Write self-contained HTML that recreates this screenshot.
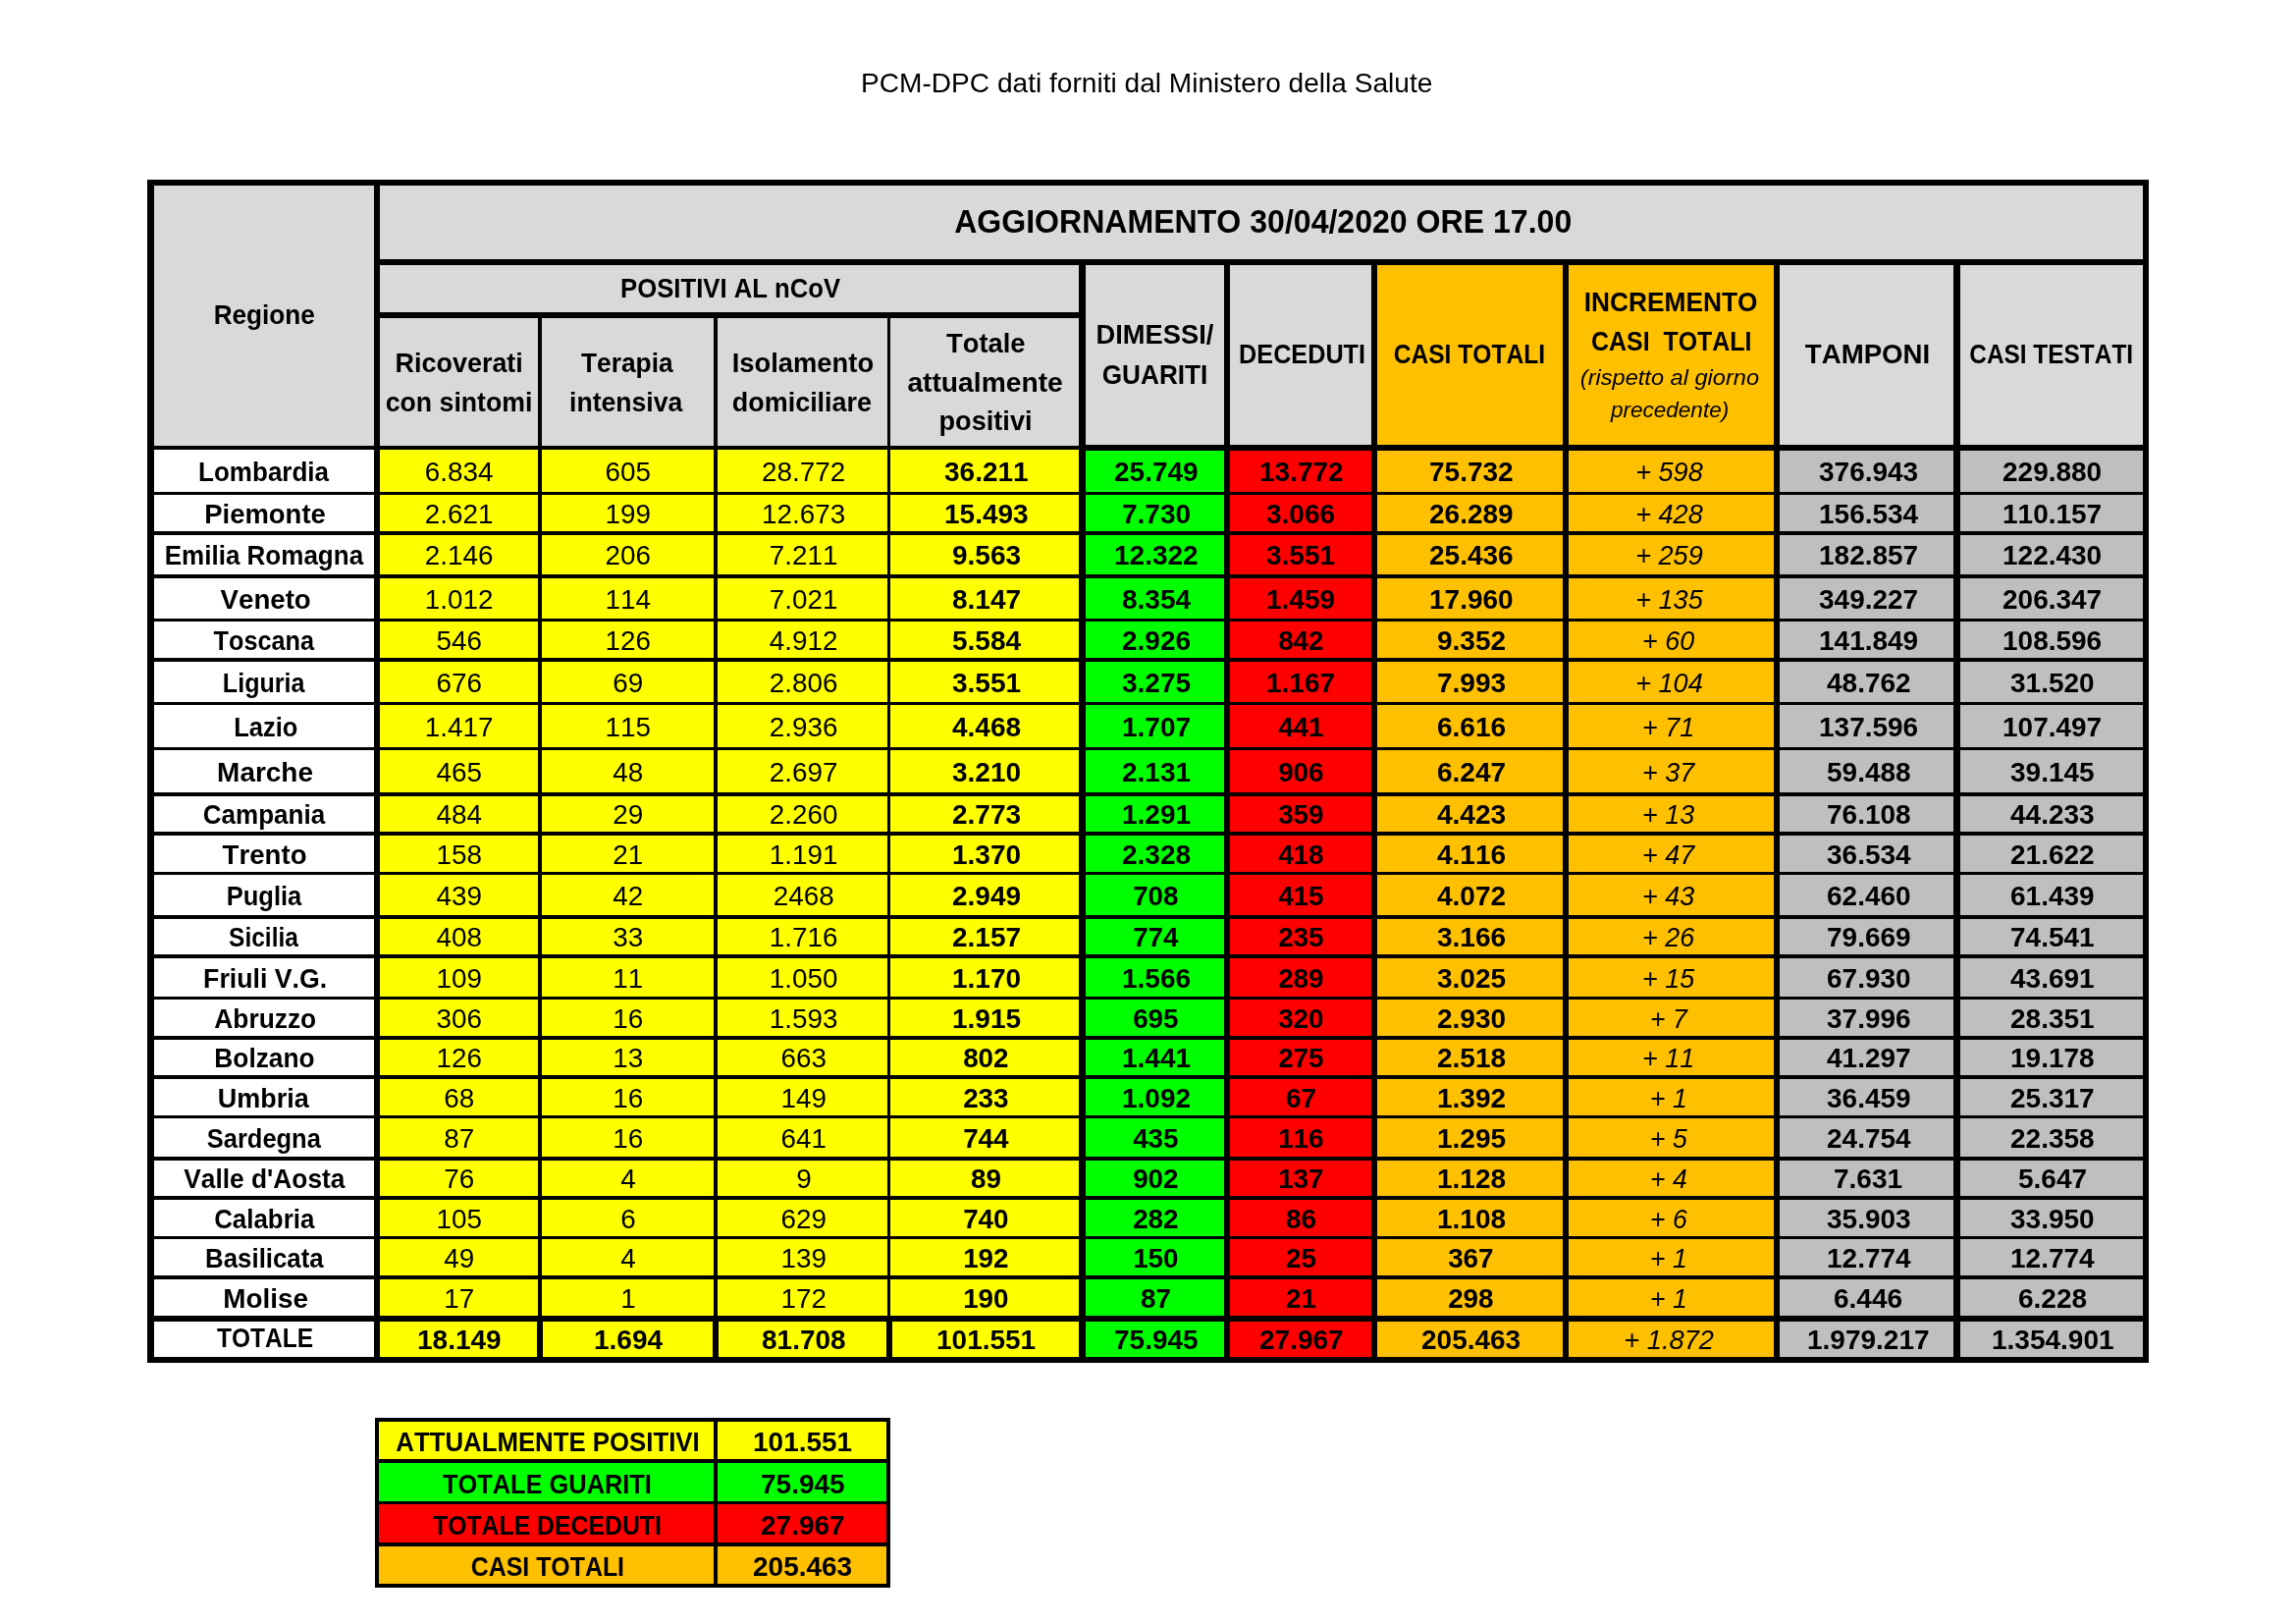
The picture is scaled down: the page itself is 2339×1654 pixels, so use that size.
<!DOCTYPE html><html><head><meta charset="utf-8"><title>PCM-DPC</title><style>
html,body{margin:0;padding:0;background:#fff}
body{width:2339px;height:1654px;position:relative;overflow:hidden;font-family:"Liberation Sans",sans-serif;color:#000}
.k{position:absolute;background:#000}
.c{position:absolute}
.t{position:absolute;white-space:pre;font-kerning:none;line-height:1;transform-origin:50% 50%;text-align:center}
.b{font-weight:bold}.i{font-style:italic}
#w{position:absolute;left:0;top:0;width:2339px;height:1654px;will-change:transform}
</style></head><body><div id="w">
<div class="k" style="left:150px;top:183px;width:2039px;height:1205px"></div>
<div class="k" style="left:382px;top:1444px;width:525px;height:173px"></div>
<div class="c" style="left:157px;top:189px;width:224px;height:265px;background:#d9d9d9"></div>
<div class="c" style="left:387px;top:189px;width:1796px;height:75px;background:#d9d9d9"></div>
<div class="c" style="left:387px;top:270px;width:712px;height:48px;background:#d9d9d9"></div>
<div class="c" style="left:387px;top:324px;width:161px;height:130px;background:#d9d9d9"></div>
<div class="c" style="left:552px;top:324px;width:175px;height:130px;background:#d9d9d9"></div>
<div class="c" style="left:731px;top:324px;width:173px;height:130px;background:#d9d9d9"></div>
<div class="c" style="left:907px;top:324px;width:192px;height:130px;background:#d9d9d9"></div>
<div class="c" style="left:1106px;top:270px;width:141px;height:183px;background:#d9d9d9"></div>
<div class="c" style="left:1253px;top:270px;width:144px;height:183px;background:#d9d9d9"></div>
<div class="c" style="left:1403px;top:270px;width:189px;height:183px;background:#ffc000"></div>
<div class="c" style="left:1598px;top:270px;width:209px;height:183px;background:#ffc000"></div>
<div class="c" style="left:1813px;top:270px;width:177px;height:183px;background:#d9d9d9"></div>
<div class="c" style="left:1997px;top:270px;width:186px;height:183px;background:#d9d9d9"></div>
<div class="c" style="left:157px;top:458px;width:224px;height:43px;background:#ffffff"></div>
<div class="c" style="left:387px;top:458px;width:161px;height:43px;background:#ffff00"></div>
<div class="c" style="left:552px;top:458px;width:175px;height:43px;background:#ffff00"></div>
<div class="c" style="left:731px;top:458px;width:173px;height:43px;background:#ffff00"></div>
<div class="c" style="left:907px;top:458px;width:192px;height:43px;background:#ffff00"></div>
<div class="c" style="left:1106px;top:459px;width:141px;height:42px;background:#00ff00"></div>
<div class="c" style="left:1253px;top:459px;width:144px;height:42px;background:#ff0000"></div>
<div class="c" style="left:1403px;top:459px;width:189px;height:42px;background:#ffc000"></div>
<div class="c" style="left:1598px;top:459px;width:209px;height:42px;background:#ffc000"></div>
<div class="c" style="left:1813px;top:459px;width:177px;height:42px;background:#bfbfbf"></div>
<div class="c" style="left:1997px;top:459px;width:186px;height:42px;background:#bfbfbf"></div>
<div class="c" style="left:157px;top:504px;width:224px;height:37px;background:#ffffff"></div>
<div class="c" style="left:387px;top:504px;width:161px;height:37px;background:#ffff00"></div>
<div class="c" style="left:552px;top:504px;width:175px;height:37px;background:#ffff00"></div>
<div class="c" style="left:731px;top:504px;width:173px;height:37px;background:#ffff00"></div>
<div class="c" style="left:907px;top:504px;width:192px;height:37px;background:#ffff00"></div>
<div class="c" style="left:1106px;top:504px;width:141px;height:37px;background:#00ff00"></div>
<div class="c" style="left:1253px;top:504px;width:144px;height:37px;background:#ff0000"></div>
<div class="c" style="left:1403px;top:504px;width:189px;height:37px;background:#ffc000"></div>
<div class="c" style="left:1598px;top:504px;width:209px;height:37px;background:#ffc000"></div>
<div class="c" style="left:1813px;top:504px;width:177px;height:37px;background:#bfbfbf"></div>
<div class="c" style="left:1997px;top:504px;width:186px;height:37px;background:#bfbfbf"></div>
<div class="c" style="left:157px;top:545px;width:224px;height:40px;background:#ffffff"></div>
<div class="c" style="left:387px;top:545px;width:161px;height:40px;background:#ffff00"></div>
<div class="c" style="left:552px;top:545px;width:175px;height:40px;background:#ffff00"></div>
<div class="c" style="left:731px;top:545px;width:173px;height:40px;background:#ffff00"></div>
<div class="c" style="left:907px;top:545px;width:192px;height:40px;background:#ffff00"></div>
<div class="c" style="left:1106px;top:545px;width:141px;height:40px;background:#00ff00"></div>
<div class="c" style="left:1253px;top:545px;width:144px;height:40px;background:#ff0000"></div>
<div class="c" style="left:1403px;top:545px;width:189px;height:40px;background:#ffc000"></div>
<div class="c" style="left:1598px;top:545px;width:209px;height:40px;background:#ffc000"></div>
<div class="c" style="left:1813px;top:545px;width:177px;height:40px;background:#bfbfbf"></div>
<div class="c" style="left:1997px;top:545px;width:186px;height:40px;background:#bfbfbf"></div>
<div class="c" style="left:157px;top:589px;width:224px;height:41px;background:#ffffff"></div>
<div class="c" style="left:387px;top:589px;width:161px;height:41px;background:#ffff00"></div>
<div class="c" style="left:552px;top:589px;width:175px;height:41px;background:#ffff00"></div>
<div class="c" style="left:731px;top:589px;width:173px;height:41px;background:#ffff00"></div>
<div class="c" style="left:907px;top:589px;width:192px;height:41px;background:#ffff00"></div>
<div class="c" style="left:1106px;top:589px;width:141px;height:41px;background:#00ff00"></div>
<div class="c" style="left:1253px;top:589px;width:144px;height:41px;background:#ff0000"></div>
<div class="c" style="left:1403px;top:589px;width:189px;height:41px;background:#ffc000"></div>
<div class="c" style="left:1598px;top:589px;width:209px;height:41px;background:#ffc000"></div>
<div class="c" style="left:1813px;top:589px;width:177px;height:41px;background:#bfbfbf"></div>
<div class="c" style="left:1997px;top:589px;width:186px;height:41px;background:#bfbfbf"></div>
<div class="c" style="left:157px;top:633px;width:224px;height:37px;background:#ffffff"></div>
<div class="c" style="left:387px;top:633px;width:161px;height:37px;background:#ffff00"></div>
<div class="c" style="left:552px;top:633px;width:175px;height:37px;background:#ffff00"></div>
<div class="c" style="left:731px;top:633px;width:173px;height:37px;background:#ffff00"></div>
<div class="c" style="left:907px;top:633px;width:192px;height:37px;background:#ffff00"></div>
<div class="c" style="left:1106px;top:633px;width:141px;height:37px;background:#00ff00"></div>
<div class="c" style="left:1253px;top:633px;width:144px;height:37px;background:#ff0000"></div>
<div class="c" style="left:1403px;top:633px;width:189px;height:37px;background:#ffc000"></div>
<div class="c" style="left:1598px;top:633px;width:209px;height:37px;background:#ffc000"></div>
<div class="c" style="left:1813px;top:633px;width:177px;height:37px;background:#bfbfbf"></div>
<div class="c" style="left:1997px;top:633px;width:186px;height:37px;background:#bfbfbf"></div>
<div class="c" style="left:157px;top:674px;width:224px;height:41px;background:#ffffff"></div>
<div class="c" style="left:387px;top:674px;width:161px;height:41px;background:#ffff00"></div>
<div class="c" style="left:552px;top:674px;width:175px;height:41px;background:#ffff00"></div>
<div class="c" style="left:731px;top:674px;width:173px;height:41px;background:#ffff00"></div>
<div class="c" style="left:907px;top:674px;width:192px;height:41px;background:#ffff00"></div>
<div class="c" style="left:1106px;top:674px;width:141px;height:41px;background:#00ff00"></div>
<div class="c" style="left:1253px;top:674px;width:144px;height:41px;background:#ff0000"></div>
<div class="c" style="left:1403px;top:674px;width:189px;height:41px;background:#ffc000"></div>
<div class="c" style="left:1598px;top:674px;width:209px;height:41px;background:#ffc000"></div>
<div class="c" style="left:1813px;top:674px;width:177px;height:41px;background:#bfbfbf"></div>
<div class="c" style="left:1997px;top:674px;width:186px;height:41px;background:#bfbfbf"></div>
<div class="c" style="left:157px;top:718px;width:224px;height:43px;background:#ffffff"></div>
<div class="c" style="left:387px;top:718px;width:161px;height:43px;background:#ffff00"></div>
<div class="c" style="left:552px;top:718px;width:175px;height:43px;background:#ffff00"></div>
<div class="c" style="left:731px;top:718px;width:173px;height:43px;background:#ffff00"></div>
<div class="c" style="left:907px;top:718px;width:192px;height:43px;background:#ffff00"></div>
<div class="c" style="left:1106px;top:718px;width:141px;height:43px;background:#00ff00"></div>
<div class="c" style="left:1253px;top:718px;width:144px;height:43px;background:#ff0000"></div>
<div class="c" style="left:1403px;top:718px;width:189px;height:43px;background:#ffc000"></div>
<div class="c" style="left:1598px;top:718px;width:209px;height:43px;background:#ffc000"></div>
<div class="c" style="left:1813px;top:718px;width:177px;height:43px;background:#bfbfbf"></div>
<div class="c" style="left:1997px;top:718px;width:186px;height:43px;background:#bfbfbf"></div>
<div class="c" style="left:157px;top:764px;width:224px;height:43px;background:#ffffff"></div>
<div class="c" style="left:387px;top:764px;width:161px;height:43px;background:#ffff00"></div>
<div class="c" style="left:552px;top:764px;width:175px;height:43px;background:#ffff00"></div>
<div class="c" style="left:731px;top:764px;width:173px;height:43px;background:#ffff00"></div>
<div class="c" style="left:907px;top:764px;width:192px;height:43px;background:#ffff00"></div>
<div class="c" style="left:1106px;top:764px;width:141px;height:43px;background:#00ff00"></div>
<div class="c" style="left:1253px;top:764px;width:144px;height:43px;background:#ff0000"></div>
<div class="c" style="left:1403px;top:764px;width:189px;height:43px;background:#ffc000"></div>
<div class="c" style="left:1598px;top:764px;width:209px;height:43px;background:#ffc000"></div>
<div class="c" style="left:1813px;top:764px;width:177px;height:43px;background:#bfbfbf"></div>
<div class="c" style="left:1997px;top:764px;width:186px;height:43px;background:#bfbfbf"></div>
<div class="c" style="left:157px;top:811px;width:224px;height:36px;background:#ffffff"></div>
<div class="c" style="left:387px;top:811px;width:161px;height:36px;background:#ffff00"></div>
<div class="c" style="left:552px;top:811px;width:175px;height:36px;background:#ffff00"></div>
<div class="c" style="left:731px;top:811px;width:173px;height:36px;background:#ffff00"></div>
<div class="c" style="left:907px;top:811px;width:192px;height:36px;background:#ffff00"></div>
<div class="c" style="left:1106px;top:811px;width:141px;height:36px;background:#00ff00"></div>
<div class="c" style="left:1253px;top:811px;width:144px;height:36px;background:#ff0000"></div>
<div class="c" style="left:1403px;top:811px;width:189px;height:36px;background:#ffc000"></div>
<div class="c" style="left:1598px;top:811px;width:209px;height:36px;background:#ffc000"></div>
<div class="c" style="left:1813px;top:811px;width:177px;height:36px;background:#bfbfbf"></div>
<div class="c" style="left:1997px;top:811px;width:186px;height:36px;background:#bfbfbf"></div>
<div class="c" style="left:157px;top:851px;width:224px;height:37px;background:#ffffff"></div>
<div class="c" style="left:387px;top:851px;width:161px;height:37px;background:#ffff00"></div>
<div class="c" style="left:552px;top:851px;width:175px;height:37px;background:#ffff00"></div>
<div class="c" style="left:731px;top:851px;width:173px;height:37px;background:#ffff00"></div>
<div class="c" style="left:907px;top:851px;width:192px;height:37px;background:#ffff00"></div>
<div class="c" style="left:1106px;top:851px;width:141px;height:37px;background:#00ff00"></div>
<div class="c" style="left:1253px;top:851px;width:144px;height:37px;background:#ff0000"></div>
<div class="c" style="left:1403px;top:851px;width:189px;height:37px;background:#ffc000"></div>
<div class="c" style="left:1598px;top:851px;width:209px;height:37px;background:#ffc000"></div>
<div class="c" style="left:1813px;top:851px;width:177px;height:37px;background:#bfbfbf"></div>
<div class="c" style="left:1997px;top:851px;width:186px;height:37px;background:#bfbfbf"></div>
<div class="c" style="left:157px;top:891px;width:224px;height:41px;background:#ffffff"></div>
<div class="c" style="left:387px;top:891px;width:161px;height:41px;background:#ffff00"></div>
<div class="c" style="left:552px;top:891px;width:175px;height:41px;background:#ffff00"></div>
<div class="c" style="left:731px;top:891px;width:173px;height:41px;background:#ffff00"></div>
<div class="c" style="left:907px;top:891px;width:192px;height:41px;background:#ffff00"></div>
<div class="c" style="left:1106px;top:891px;width:141px;height:41px;background:#00ff00"></div>
<div class="c" style="left:1253px;top:891px;width:144px;height:41px;background:#ff0000"></div>
<div class="c" style="left:1403px;top:891px;width:189px;height:41px;background:#ffc000"></div>
<div class="c" style="left:1598px;top:891px;width:209px;height:41px;background:#ffc000"></div>
<div class="c" style="left:1813px;top:891px;width:177px;height:41px;background:#bfbfbf"></div>
<div class="c" style="left:1997px;top:891px;width:186px;height:41px;background:#bfbfbf"></div>
<div class="c" style="left:157px;top:936px;width:224px;height:36px;background:#ffffff"></div>
<div class="c" style="left:387px;top:936px;width:161px;height:36px;background:#ffff00"></div>
<div class="c" style="left:552px;top:936px;width:175px;height:36px;background:#ffff00"></div>
<div class="c" style="left:731px;top:936px;width:173px;height:36px;background:#ffff00"></div>
<div class="c" style="left:907px;top:936px;width:192px;height:36px;background:#ffff00"></div>
<div class="c" style="left:1106px;top:936px;width:141px;height:36px;background:#00ff00"></div>
<div class="c" style="left:1253px;top:936px;width:144px;height:36px;background:#ff0000"></div>
<div class="c" style="left:1403px;top:936px;width:189px;height:36px;background:#ffc000"></div>
<div class="c" style="left:1598px;top:936px;width:209px;height:36px;background:#ffc000"></div>
<div class="c" style="left:1813px;top:936px;width:177px;height:36px;background:#bfbfbf"></div>
<div class="c" style="left:1997px;top:936px;width:186px;height:36px;background:#bfbfbf"></div>
<div class="c" style="left:157px;top:976px;width:224px;height:39px;background:#ffffff"></div>
<div class="c" style="left:387px;top:976px;width:161px;height:39px;background:#ffff00"></div>
<div class="c" style="left:552px;top:976px;width:175px;height:39px;background:#ffff00"></div>
<div class="c" style="left:731px;top:976px;width:173px;height:39px;background:#ffff00"></div>
<div class="c" style="left:907px;top:976px;width:192px;height:39px;background:#ffff00"></div>
<div class="c" style="left:1106px;top:976px;width:141px;height:39px;background:#00ff00"></div>
<div class="c" style="left:1253px;top:976px;width:144px;height:39px;background:#ff0000"></div>
<div class="c" style="left:1403px;top:976px;width:189px;height:39px;background:#ffc000"></div>
<div class="c" style="left:1598px;top:976px;width:209px;height:39px;background:#ffc000"></div>
<div class="c" style="left:1813px;top:976px;width:177px;height:39px;background:#bfbfbf"></div>
<div class="c" style="left:1997px;top:976px;width:186px;height:39px;background:#bfbfbf"></div>
<div class="c" style="left:157px;top:1018px;width:224px;height:37px;background:#ffffff"></div>
<div class="c" style="left:387px;top:1018px;width:161px;height:37px;background:#ffff00"></div>
<div class="c" style="left:552px;top:1018px;width:175px;height:37px;background:#ffff00"></div>
<div class="c" style="left:731px;top:1018px;width:173px;height:37px;background:#ffff00"></div>
<div class="c" style="left:907px;top:1018px;width:192px;height:37px;background:#ffff00"></div>
<div class="c" style="left:1106px;top:1018px;width:141px;height:37px;background:#00ff00"></div>
<div class="c" style="left:1253px;top:1018px;width:144px;height:37px;background:#ff0000"></div>
<div class="c" style="left:1403px;top:1018px;width:189px;height:37px;background:#ffc000"></div>
<div class="c" style="left:1598px;top:1018px;width:209px;height:37px;background:#ffc000"></div>
<div class="c" style="left:1813px;top:1018px;width:177px;height:37px;background:#bfbfbf"></div>
<div class="c" style="left:1997px;top:1018px;width:186px;height:37px;background:#bfbfbf"></div>
<div class="c" style="left:157px;top:1059px;width:224px;height:36px;background:#ffffff"></div>
<div class="c" style="left:387px;top:1059px;width:161px;height:36px;background:#ffff00"></div>
<div class="c" style="left:552px;top:1059px;width:175px;height:36px;background:#ffff00"></div>
<div class="c" style="left:731px;top:1059px;width:173px;height:36px;background:#ffff00"></div>
<div class="c" style="left:907px;top:1059px;width:192px;height:36px;background:#ffff00"></div>
<div class="c" style="left:1106px;top:1059px;width:141px;height:36px;background:#00ff00"></div>
<div class="c" style="left:1253px;top:1059px;width:144px;height:36px;background:#ff0000"></div>
<div class="c" style="left:1403px;top:1059px;width:189px;height:36px;background:#ffc000"></div>
<div class="c" style="left:1598px;top:1059px;width:209px;height:36px;background:#ffc000"></div>
<div class="c" style="left:1813px;top:1059px;width:177px;height:36px;background:#bfbfbf"></div>
<div class="c" style="left:1997px;top:1059px;width:186px;height:36px;background:#bfbfbf"></div>
<div class="c" style="left:157px;top:1099px;width:224px;height:37px;background:#ffffff"></div>
<div class="c" style="left:387px;top:1099px;width:161px;height:37px;background:#ffff00"></div>
<div class="c" style="left:552px;top:1099px;width:175px;height:37px;background:#ffff00"></div>
<div class="c" style="left:731px;top:1099px;width:173px;height:37px;background:#ffff00"></div>
<div class="c" style="left:907px;top:1099px;width:192px;height:37px;background:#ffff00"></div>
<div class="c" style="left:1106px;top:1099px;width:141px;height:37px;background:#00ff00"></div>
<div class="c" style="left:1253px;top:1099px;width:144px;height:37px;background:#ff0000"></div>
<div class="c" style="left:1403px;top:1099px;width:189px;height:37px;background:#ffc000"></div>
<div class="c" style="left:1598px;top:1099px;width:209px;height:37px;background:#ffc000"></div>
<div class="c" style="left:1813px;top:1099px;width:177px;height:37px;background:#bfbfbf"></div>
<div class="c" style="left:1997px;top:1099px;width:186px;height:37px;background:#bfbfbf"></div>
<div class="c" style="left:157px;top:1139px;width:224px;height:39px;background:#ffffff"></div>
<div class="c" style="left:387px;top:1139px;width:161px;height:39px;background:#ffff00"></div>
<div class="c" style="left:552px;top:1139px;width:175px;height:39px;background:#ffff00"></div>
<div class="c" style="left:731px;top:1139px;width:173px;height:39px;background:#ffff00"></div>
<div class="c" style="left:907px;top:1139px;width:192px;height:39px;background:#ffff00"></div>
<div class="c" style="left:1106px;top:1139px;width:141px;height:39px;background:#00ff00"></div>
<div class="c" style="left:1253px;top:1139px;width:144px;height:39px;background:#ff0000"></div>
<div class="c" style="left:1403px;top:1139px;width:189px;height:39px;background:#ffc000"></div>
<div class="c" style="left:1598px;top:1139px;width:209px;height:39px;background:#ffc000"></div>
<div class="c" style="left:1813px;top:1139px;width:177px;height:39px;background:#bfbfbf"></div>
<div class="c" style="left:1997px;top:1139px;width:186px;height:39px;background:#bfbfbf"></div>
<div class="c" style="left:157px;top:1182px;width:224px;height:36px;background:#ffffff"></div>
<div class="c" style="left:387px;top:1182px;width:161px;height:36px;background:#ffff00"></div>
<div class="c" style="left:552px;top:1182px;width:175px;height:36px;background:#ffff00"></div>
<div class="c" style="left:731px;top:1182px;width:173px;height:36px;background:#ffff00"></div>
<div class="c" style="left:907px;top:1182px;width:192px;height:36px;background:#ffff00"></div>
<div class="c" style="left:1106px;top:1182px;width:141px;height:36px;background:#00ff00"></div>
<div class="c" style="left:1253px;top:1182px;width:144px;height:36px;background:#ff0000"></div>
<div class="c" style="left:1403px;top:1182px;width:189px;height:36px;background:#ffc000"></div>
<div class="c" style="left:1598px;top:1182px;width:209px;height:36px;background:#ffc000"></div>
<div class="c" style="left:1813px;top:1182px;width:177px;height:36px;background:#bfbfbf"></div>
<div class="c" style="left:1997px;top:1182px;width:186px;height:36px;background:#bfbfbf"></div>
<div class="c" style="left:157px;top:1222px;width:224px;height:37px;background:#ffffff"></div>
<div class="c" style="left:387px;top:1222px;width:161px;height:37px;background:#ffff00"></div>
<div class="c" style="left:552px;top:1222px;width:175px;height:37px;background:#ffff00"></div>
<div class="c" style="left:731px;top:1222px;width:173px;height:37px;background:#ffff00"></div>
<div class="c" style="left:907px;top:1222px;width:192px;height:37px;background:#ffff00"></div>
<div class="c" style="left:1106px;top:1222px;width:141px;height:37px;background:#00ff00"></div>
<div class="c" style="left:1253px;top:1222px;width:144px;height:37px;background:#ff0000"></div>
<div class="c" style="left:1403px;top:1222px;width:189px;height:37px;background:#ffc000"></div>
<div class="c" style="left:1598px;top:1222px;width:209px;height:37px;background:#ffc000"></div>
<div class="c" style="left:1813px;top:1222px;width:177px;height:37px;background:#bfbfbf"></div>
<div class="c" style="left:1997px;top:1222px;width:186px;height:37px;background:#bfbfbf"></div>
<div class="c" style="left:157px;top:1262px;width:224px;height:37px;background:#ffffff"></div>
<div class="c" style="left:387px;top:1262px;width:161px;height:37px;background:#ffff00"></div>
<div class="c" style="left:552px;top:1262px;width:175px;height:37px;background:#ffff00"></div>
<div class="c" style="left:731px;top:1262px;width:173px;height:37px;background:#ffff00"></div>
<div class="c" style="left:907px;top:1262px;width:192px;height:37px;background:#ffff00"></div>
<div class="c" style="left:1106px;top:1262px;width:141px;height:37px;background:#00ff00"></div>
<div class="c" style="left:1253px;top:1262px;width:144px;height:37px;background:#ff0000"></div>
<div class="c" style="left:1403px;top:1262px;width:189px;height:37px;background:#ffc000"></div>
<div class="c" style="left:1598px;top:1262px;width:209px;height:37px;background:#ffc000"></div>
<div class="c" style="left:1813px;top:1262px;width:177px;height:37px;background:#bfbfbf"></div>
<div class="c" style="left:1997px;top:1262px;width:186px;height:37px;background:#bfbfbf"></div>
<div class="c" style="left:157px;top:1303px;width:224px;height:37px;background:#ffffff"></div>
<div class="c" style="left:387px;top:1303px;width:161px;height:37px;background:#ffff00"></div>
<div class="c" style="left:552px;top:1303px;width:175px;height:37px;background:#ffff00"></div>
<div class="c" style="left:731px;top:1303px;width:173px;height:37px;background:#ffff00"></div>
<div class="c" style="left:907px;top:1303px;width:192px;height:37px;background:#ffff00"></div>
<div class="c" style="left:1106px;top:1303px;width:141px;height:37px;background:#00ff00"></div>
<div class="c" style="left:1253px;top:1303px;width:144px;height:37px;background:#ff0000"></div>
<div class="c" style="left:1403px;top:1303px;width:189px;height:37px;background:#ffc000"></div>
<div class="c" style="left:1598px;top:1303px;width:209px;height:37px;background:#ffc000"></div>
<div class="c" style="left:1813px;top:1303px;width:177px;height:37px;background:#bfbfbf"></div>
<div class="c" style="left:1997px;top:1303px;width:186px;height:37px;background:#bfbfbf"></div>
<div class="c" style="left:157px;top:1346px;width:224px;height:36px;background:#ffffff"></div>
<div class="c" style="left:387px;top:1346px;width:160px;height:36px;background:#ffff00"></div>
<div class="c" style="left:553px;top:1346px;width:173px;height:36px;background:#ffff00"></div>
<div class="c" style="left:732px;top:1346px;width:171px;height:36px;background:#ffff00"></div>
<div class="c" style="left:909px;top:1346px;width:190px;height:36px;background:#ffff00"></div>
<div class="c" style="left:1106px;top:1346px;width:141px;height:36px;background:#00ff00"></div>
<div class="c" style="left:1253px;top:1346px;width:144px;height:36px;background:#ff0000"></div>
<div class="c" style="left:1403px;top:1346px;width:189px;height:36px;background:#ffc000"></div>
<div class="c" style="left:1598px;top:1346px;width:209px;height:36px;background:#ffc000"></div>
<div class="c" style="left:1813px;top:1346px;width:177px;height:36px;background:#bfbfbf"></div>
<div class="c" style="left:1997px;top:1346px;width:186px;height:36px;background:#bfbfbf"></div>
<div class="c" style="left:386px;top:1448px;width:341px;height:38px;background:#ffff00"></div>
<div class="c" style="left:731px;top:1448px;width:172px;height:38px;background:#ffff00"></div>
<div class="c" style="left:386px;top:1490px;width:341px;height:39px;background:#00ff00"></div>
<div class="c" style="left:731px;top:1490px;width:172px;height:39px;background:#00ff00"></div>
<div class="c" style="left:386px;top:1532px;width:341px;height:39px;background:#ff0000"></div>
<div class="c" style="left:731px;top:1532px;width:172px;height:39px;background:#ff0000"></div>
<div class="c" style="left:386px;top:1575px;width:341px;height:38px;background:#ffc000"></div>
<div class="c" style="left:731px;top:1575px;width:172px;height:38px;background:#ffc000"></div>
<span class="t b" style="left:196.98px;top:467px;font-size:28px;width:143.13px;transform:scaleX(0.9290)">Lombardia</span>
<span class="t" style="left:432.34px;top:466px;font-size:28.5px;width:71.32px;transform:scaleX(0.9767)">6.834</span>
<span class="t" style="left:616.22px;top:466px;font-size:28.5px;width:47.55px;transform:scaleX(0.9771)">605</span>
<span class="t" style="left:775.12px;top:466px;font-size:28.5px;width:87.17px;transform:scaleX(0.9768)">28.772</span>
<span class="t b" style="left:961.78px;top:467px;font-size:28px;width:85.64px;transform:scaleX(0.9995)">36.211</span>
<span class="t b" style="left:1134.83px;top:467px;font-size:28px;width:85.64px;transform:scaleX(0.9995)">25.749</span>
<span class="t b" style="left:1282.58px;top:467px;font-size:28px;width:85.64px;transform:scaleX(0.9995)">13.772</span>
<span class="t b" style="left:1455.93px;top:467px;font-size:28px;width:85.64px;transform:scaleX(0.9995)">75.732</span>
<span class="t i" style="left:1664.58px;top:467px;font-size:28px;width:70.85px;transform:scaleX(0.9681)">+ 598</span>
<span class="t b" style="left:1852.79px;top:467px;font-size:28px;width:101.21px;transform:scaleX(0.9987)">376.943</span>
<span class="t b" style="left:2040.29px;top:467px;font-size:28px;width:101.21px;transform:scaleX(0.9987)">229.880</span>
<span class="t b" style="left:206.54px;top:510px;font-size:28px;width:126.03px;transform:scaleX(0.9805)">Piemonte</span>
<span class="t" style="left:432.34px;top:509px;font-size:28.5px;width:71.32px;transform:scaleX(0.9767)">2.621</span>
<span class="t" style="left:616.22px;top:509px;font-size:28.5px;width:47.55px;transform:scaleX(0.9771)">199</span>
<span class="t" style="left:775.12px;top:509px;font-size:28.5px;width:87.17px;transform:scaleX(0.9768)">12.673</span>
<span class="t b" style="left:961.78px;top:510px;font-size:28px;width:85.64px;transform:scaleX(0.9995)">15.493</span>
<span class="t b" style="left:1142.62px;top:510px;font-size:28px;width:70.07px;transform:scaleX(1.0006)">7.730</span>
<span class="t b" style="left:1290.37px;top:510px;font-size:28px;width:70.07px;transform:scaleX(1.0006)">3.066</span>
<span class="t b" style="left:1455.93px;top:510px;font-size:28px;width:85.64px;transform:scaleX(0.9995)">26.289</span>
<span class="t i" style="left:1664.58px;top:510px;font-size:28px;width:70.85px;transform:scaleX(0.9681)">+ 428</span>
<span class="t b" style="left:1852.79px;top:510px;font-size:28px;width:101.21px;transform:scaleX(0.9987)">156.534</span>
<span class="t b" style="left:2040.29px;top:510px;font-size:28px;width:101.21px;transform:scaleX(0.9987)">110.157</span>
<span class="t b" style="left:160.23px;top:552px;font-size:28px;width:217.83px;transform:scaleX(0.9290)">Emilia Romagna</span>
<span class="t" style="left:432.34px;top:551px;font-size:28.5px;width:71.32px;transform:scaleX(0.9767)">2.146</span>
<span class="t" style="left:616.22px;top:551px;font-size:28.5px;width:47.55px;transform:scaleX(0.9771)">206</span>
<span class="t" style="left:783.04px;top:551px;font-size:28.5px;width:71.32px;transform:scaleX(0.9767)">7.211</span>
<span class="t b" style="left:969.57px;top:552px;font-size:28px;width:70.07px;transform:scaleX(1.0006)">9.563</span>
<span class="t b" style="left:1134.83px;top:552px;font-size:28px;width:85.64px;transform:scaleX(0.9995)">12.322</span>
<span class="t b" style="left:1290.37px;top:552px;font-size:28px;width:70.07px;transform:scaleX(1.0006)">3.551</span>
<span class="t b" style="left:1455.93px;top:552px;font-size:28px;width:85.64px;transform:scaleX(0.9995)">25.436</span>
<span class="t i" style="left:1664.58px;top:552px;font-size:28px;width:70.85px;transform:scaleX(0.9681)">+ 259</span>
<span class="t b" style="left:1852.79px;top:552px;font-size:28px;width:101.21px;transform:scaleX(0.9987)">182.857</span>
<span class="t b" style="left:2040.29px;top:552px;font-size:28px;width:101.21px;transform:scaleX(0.9987)">122.430</span>
<span class="t b" style="left:224.02px;top:597px;font-size:28px;width:93.35px;transform:scaleX(0.9873)">Veneto</span>
<span class="t" style="left:432.34px;top:596px;font-size:28.5px;width:71.32px;transform:scaleX(0.9767)">1.012</span>
<span class="t" style="left:616.22px;top:596px;font-size:28.5px;width:47.55px;transform:scaleX(0.9771)">114</span>
<span class="t" style="left:783.04px;top:596px;font-size:28.5px;width:71.32px;transform:scaleX(0.9767)">7.021</span>
<span class="t b" style="left:969.57px;top:597px;font-size:28px;width:70.07px;transform:scaleX(1.0006)">8.147</span>
<span class="t b" style="left:1142.62px;top:597px;font-size:28px;width:70.07px;transform:scaleX(1.0006)">8.354</span>
<span class="t b" style="left:1290.37px;top:597px;font-size:28px;width:70.07px;transform:scaleX(1.0006)">1.459</span>
<span class="t b" style="left:1455.93px;top:597px;font-size:28px;width:85.64px;transform:scaleX(0.9995)">17.960</span>
<span class="t i" style="left:1664.58px;top:597px;font-size:28px;width:70.85px;transform:scaleX(0.9681)">+ 135</span>
<span class="t b" style="left:1852.79px;top:597px;font-size:28px;width:101.21px;transform:scaleX(0.9987)">349.227</span>
<span class="t b" style="left:2040.29px;top:597px;font-size:28px;width:101.21px;transform:scaleX(0.9987)">206.347</span>
<span class="t b" style="left:212.33px;top:639px;font-size:28px;width:113.60px;transform:scaleX(0.9016)">Toscana</span>
<span class="t" style="left:444.22px;top:638px;font-size:28.5px;width:47.55px;transform:scaleX(0.9771)">546</span>
<span class="t" style="left:616.22px;top:638px;font-size:28.5px;width:47.55px;transform:scaleX(0.9771)">126</span>
<span class="t" style="left:783.04px;top:638px;font-size:28.5px;width:71.32px;transform:scaleX(0.9767)">4.912</span>
<span class="t b" style="left:969.57px;top:639px;font-size:28px;width:70.07px;transform:scaleX(1.0006)">5.584</span>
<span class="t b" style="left:1142.62px;top:639px;font-size:28px;width:70.07px;transform:scaleX(1.0006)">2.926</span>
<span class="t b" style="left:1302.04px;top:639px;font-size:28px;width:46.72px;transform:scaleX(0.9945)">842</span>
<span class="t b" style="left:1463.72px;top:639px;font-size:28px;width:70.07px;transform:scaleX(1.0006)">9.352</span>
<span class="t i" style="left:1672.36px;top:639px;font-size:28px;width:55.28px;transform:scaleX(0.9606)">+ 60</span>
<span class="t b" style="left:1852.79px;top:639px;font-size:28px;width:101.21px;transform:scaleX(0.9987)">141.849</span>
<span class="t b" style="left:2040.29px;top:639px;font-size:28px;width:101.21px;transform:scaleX(0.9987)">108.596</span>
<span class="t b" style="left:221.76px;top:682px;font-size:28px;width:93.34px;transform:scaleX(0.8959)">Liguria</span>
<span class="t" style="left:444.22px;top:681px;font-size:28.5px;width:47.55px;transform:scaleX(0.9771)">676</span>
<span class="t" style="left:624.15px;top:681px;font-size:28.5px;width:31.70px;transform:scaleX(0.9771)">69</span>
<span class="t" style="left:783.04px;top:681px;font-size:28.5px;width:71.32px;transform:scaleX(0.9767)">2.806</span>
<span class="t b" style="left:969.57px;top:682px;font-size:28px;width:70.07px;transform:scaleX(1.0006)">3.551</span>
<span class="t b" style="left:1142.62px;top:682px;font-size:28px;width:70.07px;transform:scaleX(1.0006)">3.275</span>
<span class="t b" style="left:1290.37px;top:682px;font-size:28px;width:70.07px;transform:scaleX(1.0006)">1.167</span>
<span class="t b" style="left:1463.72px;top:682px;font-size:28px;width:70.07px;transform:scaleX(1.0006)">7.993</span>
<span class="t i" style="left:1664.58px;top:682px;font-size:28px;width:70.85px;transform:scaleX(0.9681)">+ 104</span>
<span class="t b" style="left:1860.58px;top:682px;font-size:28px;width:85.64px;transform:scaleX(0.9995)">48.762</span>
<span class="t b" style="left:2048.08px;top:682px;font-size:28px;width:85.64px;transform:scaleX(0.9995)">31.520</span>
<span class="t b" style="left:234.82px;top:727px;font-size:28px;width:71.56px;transform:scaleX(0.9112)">Lazio</span>
<span class="t" style="left:432.34px;top:726px;font-size:28.5px;width:71.32px;transform:scaleX(0.9767)">1.417</span>
<span class="t" style="left:616.22px;top:726px;font-size:28.5px;width:47.55px;transform:scaleX(0.9771)">115</span>
<span class="t" style="left:783.04px;top:726px;font-size:28.5px;width:71.32px;transform:scaleX(0.9767)">2.936</span>
<span class="t b" style="left:969.57px;top:727px;font-size:28px;width:70.07px;transform:scaleX(1.0006)">4.468</span>
<span class="t b" style="left:1142.62px;top:727px;font-size:28px;width:70.07px;transform:scaleX(1.0006)">1.707</span>
<span class="t b" style="left:1302.04px;top:727px;font-size:28px;width:46.72px;transform:scaleX(0.9945)">441</span>
<span class="t b" style="left:1463.72px;top:727px;font-size:28px;width:70.07px;transform:scaleX(1.0006)">6.616</span>
<span class="t i" style="left:1672.36px;top:727px;font-size:28px;width:55.28px;transform:scaleX(0.9606)">+ 71</span>
<span class="t b" style="left:1852.79px;top:727px;font-size:28px;width:101.21px;transform:scaleX(0.9987)">137.596</span>
<span class="t b" style="left:2040.29px;top:727px;font-size:28px;width:101.21px;transform:scaleX(0.9987)">107.497</span>
<span class="t b" style="left:220.62px;top:773px;font-size:28px;width:98.04px;transform:scaleX(0.9978)">Marche</span>
<span class="t" style="left:444.22px;top:772px;font-size:28.5px;width:47.55px;transform:scaleX(0.9771)">465</span>
<span class="t" style="left:624.15px;top:772px;font-size:28.5px;width:31.70px;transform:scaleX(0.9771)">48</span>
<span class="t" style="left:783.04px;top:772px;font-size:28.5px;width:71.32px;transform:scaleX(0.9767)">2.697</span>
<span class="t b" style="left:969.57px;top:773px;font-size:28px;width:70.07px;transform:scaleX(1.0006)">3.210</span>
<span class="t b" style="left:1142.62px;top:773px;font-size:28px;width:70.07px;transform:scaleX(1.0006)">2.131</span>
<span class="t b" style="left:1302.04px;top:773px;font-size:28px;width:46.72px;transform:scaleX(0.9945)">906</span>
<span class="t b" style="left:1463.72px;top:773px;font-size:28px;width:70.07px;transform:scaleX(1.0006)">6.247</span>
<span class="t i" style="left:1672.36px;top:773px;font-size:28px;width:55.28px;transform:scaleX(0.9606)">+ 37</span>
<span class="t b" style="left:1860.58px;top:773px;font-size:28px;width:85.64px;transform:scaleX(0.9995)">59.488</span>
<span class="t b" style="left:2048.08px;top:773px;font-size:28px;width:85.64px;transform:scaleX(0.9995)">39.145</span>
<span class="t b" style="left:202.12px;top:816px;font-size:28px;width:133.82px;transform:scaleX(0.9296)">Campania</span>
<span class="t" style="left:444.22px;top:815px;font-size:28.5px;width:47.55px;transform:scaleX(0.9771)">484</span>
<span class="t" style="left:624.15px;top:815px;font-size:28.5px;width:31.70px;transform:scaleX(0.9771)">29</span>
<span class="t" style="left:783.04px;top:815px;font-size:28.5px;width:71.32px;transform:scaleX(0.9767)">2.260</span>
<span class="t b" style="left:969.57px;top:816px;font-size:28px;width:70.07px;transform:scaleX(1.0006)">2.773</span>
<span class="t b" style="left:1142.62px;top:816px;font-size:28px;width:70.07px;transform:scaleX(1.0006)">1.291</span>
<span class="t b" style="left:1302.04px;top:816px;font-size:28px;width:46.72px;transform:scaleX(0.9945)">359</span>
<span class="t b" style="left:1463.72px;top:816px;font-size:28px;width:70.07px;transform:scaleX(1.0006)">4.423</span>
<span class="t i" style="left:1672.36px;top:816px;font-size:28px;width:55.28px;transform:scaleX(0.9606)">+ 13</span>
<span class="t b" style="left:1860.58px;top:816px;font-size:28px;width:85.64px;transform:scaleX(0.9995)">76.108</span>
<span class="t b" style="left:2048.08px;top:816px;font-size:28px;width:85.64px;transform:scaleX(0.9995)">44.233</span>
<span class="t b" style="left:226.43px;top:857px;font-size:28px;width:87.10px;transform:scaleX(0.9872)">Trento</span>
<span class="t" style="left:444.22px;top:856px;font-size:28.5px;width:47.55px;transform:scaleX(0.9771)">158</span>
<span class="t" style="left:624.15px;top:856px;font-size:28.5px;width:31.70px;transform:scaleX(0.9771)">21</span>
<span class="t" style="left:783.04px;top:856px;font-size:28.5px;width:71.32px;transform:scaleX(0.9767)">1.191</span>
<span class="t b" style="left:969.57px;top:857px;font-size:28px;width:70.07px;transform:scaleX(1.0006)">1.370</span>
<span class="t b" style="left:1142.62px;top:857px;font-size:28px;width:70.07px;transform:scaleX(1.0006)">2.328</span>
<span class="t b" style="left:1302.04px;top:857px;font-size:28px;width:46.72px;transform:scaleX(0.9945)">418</span>
<span class="t b" style="left:1463.72px;top:857px;font-size:28px;width:70.07px;transform:scaleX(1.0006)">4.116</span>
<span class="t i" style="left:1672.36px;top:857px;font-size:28px;width:55.28px;transform:scaleX(0.9606)">+ 47</span>
<span class="t b" style="left:1860.58px;top:857px;font-size:28px;width:85.64px;transform:scaleX(0.9995)">36.534</span>
<span class="t b" style="left:2048.08px;top:857px;font-size:28px;width:85.64px;transform:scaleX(0.9995)">21.622</span>
<span class="t b" style="left:227.06px;top:899px;font-size:28px;width:84.01px;transform:scaleX(0.9111)">Puglia</span>
<span class="t" style="left:444.22px;top:898px;font-size:28.5px;width:47.55px;transform:scaleX(0.9771)">439</span>
<span class="t" style="left:624.15px;top:898px;font-size:28.5px;width:31.70px;transform:scaleX(0.9771)">42</span>
<span class="t" style="left:787.00px;top:898px;font-size:28.5px;width:63.40px;transform:scaleX(0.9771)">2468</span>
<span class="t b" style="left:969.57px;top:899px;font-size:28px;width:70.07px;transform:scaleX(1.0006)">2.949</span>
<span class="t b" style="left:1154.29px;top:899px;font-size:28px;width:46.72px;transform:scaleX(0.9945)">708</span>
<span class="t b" style="left:1302.04px;top:899px;font-size:28px;width:46.72px;transform:scaleX(0.9945)">415</span>
<span class="t b" style="left:1463.72px;top:899px;font-size:28px;width:70.07px;transform:scaleX(1.0006)">4.072</span>
<span class="t i" style="left:1672.36px;top:899px;font-size:28px;width:55.28px;transform:scaleX(0.9606)">+ 43</span>
<span class="t b" style="left:1860.58px;top:899px;font-size:28px;width:85.64px;transform:scaleX(0.9995)">62.460</span>
<span class="t b" style="left:2048.08px;top:899px;font-size:28px;width:85.64px;transform:scaleX(0.9995)">61.439</span>
<span class="t b" style="left:228.25px;top:941px;font-size:28px;width:80.94px;transform:scaleX(0.8754)">Sicilia</span>
<span class="t" style="left:444.22px;top:940px;font-size:28.5px;width:47.55px;transform:scaleX(0.9771)">408</span>
<span class="t" style="left:624.15px;top:940px;font-size:28.5px;width:31.70px;transform:scaleX(0.9771)">33</span>
<span class="t" style="left:783.04px;top:940px;font-size:28.5px;width:71.32px;transform:scaleX(0.9767)">1.716</span>
<span class="t b" style="left:969.57px;top:941px;font-size:28px;width:70.07px;transform:scaleX(1.0006)">2.157</span>
<span class="t b" style="left:1154.29px;top:941px;font-size:28px;width:46.72px;transform:scaleX(0.9945)">774</span>
<span class="t b" style="left:1302.04px;top:941px;font-size:28px;width:46.72px;transform:scaleX(0.9945)">235</span>
<span class="t b" style="left:1463.72px;top:941px;font-size:28px;width:70.07px;transform:scaleX(1.0006)">3.166</span>
<span class="t i" style="left:1672.36px;top:941px;font-size:28px;width:55.28px;transform:scaleX(0.9606)">+ 26</span>
<span class="t b" style="left:1860.58px;top:941px;font-size:28px;width:85.64px;transform:scaleX(0.9995)">79.669</span>
<span class="t b" style="left:2048.08px;top:941px;font-size:28px;width:85.64px;transform:scaleX(0.9995)">74.541</span>
<span class="t b" style="left:203.71px;top:983px;font-size:28px;width:132.23px;transform:scaleX(0.9530)">Friuli V.G.</span>
<span class="t" style="left:444.22px;top:982px;font-size:28.5px;width:47.55px;transform:scaleX(0.9771)">109</span>
<span class="t" style="left:624.15px;top:982px;font-size:28.5px;width:31.70px;transform:scaleX(0.9771)">11</span>
<span class="t" style="left:783.04px;top:982px;font-size:28.5px;width:71.32px;transform:scaleX(0.9767)">1.050</span>
<span class="t b" style="left:969.57px;top:983px;font-size:28px;width:70.07px;transform:scaleX(1.0006)">1.170</span>
<span class="t b" style="left:1142.62px;top:983px;font-size:28px;width:70.07px;transform:scaleX(1.0006)">1.566</span>
<span class="t b" style="left:1302.04px;top:983px;font-size:28px;width:46.72px;transform:scaleX(0.9945)">289</span>
<span class="t b" style="left:1463.72px;top:983px;font-size:28px;width:70.07px;transform:scaleX(1.0006)">3.025</span>
<span class="t i" style="left:1672.36px;top:983px;font-size:28px;width:55.28px;transform:scaleX(0.9606)">+ 15</span>
<span class="t b" style="left:1860.58px;top:983px;font-size:28px;width:85.64px;transform:scaleX(0.9995)">67.930</span>
<span class="t b" style="left:2048.08px;top:983px;font-size:28px;width:85.64px;transform:scaleX(0.9995)">43.691</span>
<span class="t b" style="left:214.77px;top:1024px;font-size:28px;width:110.43px;transform:scaleX(0.9408)">Abruzzo</span>
<span class="t" style="left:444.22px;top:1023px;font-size:28.5px;width:47.55px;transform:scaleX(0.9771)">306</span>
<span class="t" style="left:624.15px;top:1023px;font-size:28.5px;width:31.70px;transform:scaleX(0.9771)">16</span>
<span class="t" style="left:783.04px;top:1023px;font-size:28.5px;width:71.32px;transform:scaleX(0.9767)">1.593</span>
<span class="t b" style="left:969.57px;top:1024px;font-size:28px;width:70.07px;transform:scaleX(1.0006)">1.915</span>
<span class="t b" style="left:1154.29px;top:1024px;font-size:28px;width:46.72px;transform:scaleX(0.9945)">695</span>
<span class="t b" style="left:1302.04px;top:1024px;font-size:28px;width:46.72px;transform:scaleX(0.9945)">320</span>
<span class="t b" style="left:1463.72px;top:1024px;font-size:28px;width:70.07px;transform:scaleX(1.0006)">2.930</span>
<span class="t i" style="left:1680.15px;top:1024px;font-size:28px;width:39.70px;transform:scaleX(0.9473)">+ 7</span>
<span class="t b" style="left:1860.58px;top:1024px;font-size:28px;width:85.64px;transform:scaleX(0.9995)">37.996</span>
<span class="t b" style="left:2048.08px;top:1024px;font-size:28px;width:85.64px;transform:scaleX(0.9995)">28.351</span>
<span class="t b" style="left:215.39px;top:1064px;font-size:28px;width:108.88px;transform:scaleX(0.9385)">Bolzano</span>
<span class="t" style="left:444.22px;top:1063px;font-size:28.5px;width:47.55px;transform:scaleX(0.9771)">126</span>
<span class="t" style="left:624.15px;top:1063px;font-size:28.5px;width:31.70px;transform:scaleX(0.9771)">13</span>
<span class="t" style="left:794.92px;top:1063px;font-size:28.5px;width:47.55px;transform:scaleX(0.9771)">663</span>
<span class="t b" style="left:981.24px;top:1064px;font-size:28px;width:46.72px;transform:scaleX(0.9945)">802</span>
<span class="t b" style="left:1142.62px;top:1064px;font-size:28px;width:70.07px;transform:scaleX(1.0006)">1.441</span>
<span class="t b" style="left:1302.04px;top:1064px;font-size:28px;width:46.72px;transform:scaleX(0.9945)">275</span>
<span class="t b" style="left:1463.72px;top:1064px;font-size:28px;width:70.07px;transform:scaleX(1.0006)">2.518</span>
<span class="t i" style="left:1672.36px;top:1064px;font-size:28px;width:55.28px;transform:scaleX(0.9606)">+ 11</span>
<span class="t b" style="left:1860.58px;top:1064px;font-size:28px;width:85.64px;transform:scaleX(0.9995)">41.297</span>
<span class="t b" style="left:2048.08px;top:1064px;font-size:28px;width:85.64px;transform:scaleX(0.9995)">19.178</span>
<span class="t b" style="left:220.37px;top:1105px;font-size:28px;width:96.47px;transform:scaleX(0.9646)">Umbria</span>
<span class="t" style="left:452.15px;top:1104px;font-size:28.5px;width:31.70px;transform:scaleX(0.9771)">68</span>
<span class="t" style="left:624.15px;top:1104px;font-size:28.5px;width:31.70px;transform:scaleX(0.9771)">16</span>
<span class="t" style="left:794.92px;top:1104px;font-size:28.5px;width:47.55px;transform:scaleX(0.9771)">149</span>
<span class="t b" style="left:981.24px;top:1105px;font-size:28px;width:46.72px;transform:scaleX(0.9945)">233</span>
<span class="t b" style="left:1142.62px;top:1105px;font-size:28px;width:70.07px;transform:scaleX(1.0006)">1.092</span>
<span class="t b" style="left:1309.83px;top:1105px;font-size:28px;width:31.14px;transform:scaleX(0.9945)">67</span>
<span class="t b" style="left:1463.72px;top:1105px;font-size:28px;width:70.07px;transform:scaleX(1.0006)">1.392</span>
<span class="t i" style="left:1680.15px;top:1105px;font-size:28px;width:39.70px;transform:scaleX(0.9473)">+ 1</span>
<span class="t b" style="left:1860.58px;top:1105px;font-size:28px;width:85.64px;transform:scaleX(0.9995)">36.459</span>
<span class="t b" style="left:2048.08px;top:1105px;font-size:28px;width:85.64px;transform:scaleX(0.9995)">25.317</span>
<span class="t b" style="left:205.45px;top:1146px;font-size:28px;width:127.60px;transform:scaleX(0.9089)">Sardegna</span>
<span class="t" style="left:452.15px;top:1145px;font-size:28.5px;width:31.70px;transform:scaleX(0.9771)">87</span>
<span class="t" style="left:624.15px;top:1145px;font-size:28.5px;width:31.70px;transform:scaleX(0.9771)">16</span>
<span class="t" style="left:794.92px;top:1145px;font-size:28.5px;width:47.55px;transform:scaleX(0.9771)">641</span>
<span class="t b" style="left:981.24px;top:1146px;font-size:28px;width:46.72px;transform:scaleX(0.9945)">744</span>
<span class="t b" style="left:1154.29px;top:1146px;font-size:28px;width:46.72px;transform:scaleX(0.9945)">435</span>
<span class="t b" style="left:1302.04px;top:1146px;font-size:28px;width:46.72px;transform:scaleX(0.9945)">116</span>
<span class="t b" style="left:1463.72px;top:1146px;font-size:28px;width:70.07px;transform:scaleX(1.0006)">1.295</span>
<span class="t i" style="left:1680.15px;top:1146px;font-size:28px;width:39.70px;transform:scaleX(0.9473)">+ 5</span>
<span class="t b" style="left:1860.58px;top:1146px;font-size:28px;width:85.64px;transform:scaleX(0.9995)">24.754</span>
<span class="t b" style="left:2048.08px;top:1146px;font-size:28px;width:85.64px;transform:scaleX(0.9995)">22.358</span>
<span class="t b" style="left:181.77px;top:1187px;font-size:28px;width:174.71px;transform:scaleX(0.9399)">Valle d'Aosta</span>
<span class="t" style="left:452.15px;top:1186px;font-size:28.5px;width:31.70px;transform:scaleX(0.9771)">76</span>
<span class="t" style="left:632.07px;top:1186px;font-size:28.5px;width:15.85px;transform:scaleX(0.9771)">4</span>
<span class="t" style="left:810.77px;top:1186px;font-size:28.5px;width:15.85px;transform:scaleX(0.9771)">9</span>
<span class="t b" style="left:989.03px;top:1187px;font-size:28px;width:31.14px;transform:scaleX(0.9945)">89</span>
<span class="t b" style="left:1154.29px;top:1187px;font-size:28px;width:46.72px;transform:scaleX(0.9945)">902</span>
<span class="t b" style="left:1302.04px;top:1187px;font-size:28px;width:46.72px;transform:scaleX(0.9945)">137</span>
<span class="t b" style="left:1463.72px;top:1187px;font-size:28px;width:70.07px;transform:scaleX(1.0006)">1.128</span>
<span class="t i" style="left:1680.15px;top:1187px;font-size:28px;width:39.70px;transform:scaleX(0.9473)">+ 4</span>
<span class="t b" style="left:1868.37px;top:1187px;font-size:28px;width:70.07px;transform:scaleX(1.0006)">7.631</span>
<span class="t b" style="left:2055.87px;top:1187px;font-size:28px;width:70.07px;transform:scaleX(1.0006)">5.647</span>
<span class="t b" style="left:213.79px;top:1228px;font-size:28px;width:110.50px;transform:scaleX(0.9249)">Calabria</span>
<span class="t" style="left:444.22px;top:1227px;font-size:28.5px;width:47.55px;transform:scaleX(0.9771)">105</span>
<span class="t" style="left:632.07px;top:1227px;font-size:28.5px;width:15.85px;transform:scaleX(0.9771)">6</span>
<span class="t" style="left:794.92px;top:1227px;font-size:28.5px;width:47.55px;transform:scaleX(0.9771)">629</span>
<span class="t b" style="left:981.24px;top:1228px;font-size:28px;width:46.72px;transform:scaleX(0.9945)">740</span>
<span class="t b" style="left:1154.29px;top:1228px;font-size:28px;width:46.72px;transform:scaleX(0.9945)">282</span>
<span class="t b" style="left:1309.83px;top:1228px;font-size:28px;width:31.14px;transform:scaleX(0.9945)">86</span>
<span class="t b" style="left:1463.72px;top:1228px;font-size:28px;width:70.07px;transform:scaleX(1.0006)">1.108</span>
<span class="t i" style="left:1680.15px;top:1228px;font-size:28px;width:39.70px;transform:scaleX(0.9473)">+ 6</span>
<span class="t b" style="left:1860.58px;top:1228px;font-size:28px;width:85.64px;transform:scaleX(0.9995)">35.903</span>
<span class="t b" style="left:2048.08px;top:1228px;font-size:28px;width:85.64px;transform:scaleX(0.9995)">33.950</span>
<span class="t b" style="left:203.68px;top:1268px;font-size:28px;width:130.74px;transform:scaleX(0.9221)">Basilicata</span>
<span class="t" style="left:452.15px;top:1267px;font-size:28.5px;width:31.70px;transform:scaleX(0.9771)">49</span>
<span class="t" style="left:632.07px;top:1267px;font-size:28.5px;width:15.85px;transform:scaleX(0.9771)">4</span>
<span class="t" style="left:794.92px;top:1267px;font-size:28.5px;width:47.55px;transform:scaleX(0.9771)">139</span>
<span class="t b" style="left:981.24px;top:1268px;font-size:28px;width:46.72px;transform:scaleX(0.9945)">192</span>
<span class="t b" style="left:1154.29px;top:1268px;font-size:28px;width:46.72px;transform:scaleX(0.9945)">150</span>
<span class="t b" style="left:1309.83px;top:1268px;font-size:28px;width:31.14px;transform:scaleX(0.9945)">25</span>
<span class="t b" style="left:1475.39px;top:1268px;font-size:28px;width:46.72px;transform:scaleX(0.9945)">367</span>
<span class="t i" style="left:1680.15px;top:1268px;font-size:28px;width:39.70px;transform:scaleX(0.9473)">+ 1</span>
<span class="t b" style="left:1860.58px;top:1268px;font-size:28px;width:85.64px;transform:scaleX(0.9995)">12.774</span>
<span class="t b" style="left:2048.08px;top:1268px;font-size:28px;width:85.64px;transform:scaleX(0.9995)">12.774</span>
<span class="t b" style="left:226.53px;top:1309px;font-size:28px;width:87.13px;transform:scaleX(0.9952)">Molise</span>
<span class="t" style="left:452.15px;top:1308px;font-size:28.5px;width:31.70px;transform:scaleX(0.9771)">17</span>
<span class="t" style="left:632.07px;top:1308px;font-size:28.5px;width:15.85px;transform:scaleX(0.9771)">1</span>
<span class="t" style="left:794.92px;top:1308px;font-size:28.5px;width:47.55px;transform:scaleX(0.9771)">172</span>
<span class="t b" style="left:981.24px;top:1309px;font-size:28px;width:46.72px;transform:scaleX(0.9945)">190</span>
<span class="t b" style="left:1162.08px;top:1309px;font-size:28px;width:31.14px;transform:scaleX(0.9945)">87</span>
<span class="t b" style="left:1309.83px;top:1309px;font-size:28px;width:31.14px;transform:scaleX(0.9945)">21</span>
<span class="t b" style="left:1475.39px;top:1309px;font-size:28px;width:46.72px;transform:scaleX(0.9945)">298</span>
<span class="t i" style="left:1680.15px;top:1309px;font-size:28px;width:39.70px;transform:scaleX(0.9473)">+ 1</span>
<span class="t b" style="left:1868.37px;top:1309px;font-size:28px;width:70.07px;transform:scaleX(1.0006)">6.446</span>
<span class="t b" style="left:2055.87px;top:1309px;font-size:28px;width:70.07px;transform:scaleX(1.0006)">6.228</span>
<span class="t b" style="left:214.35px;top:1349px;font-size:28px;width:111.99px;transform:scaleX(0.8754)">TOTALE</span>
<span class="t b" style="left:425.18px;top:1351px;font-size:28px;width:85.64px;transform:scaleX(0.9995)">18.149</span>
<span class="t b" style="left:604.97px;top:1351px;font-size:28px;width:70.07px;transform:scaleX(1.0006)">1.694</span>
<span class="t b" style="left:775.88px;top:1351px;font-size:28px;width:85.64px;transform:scaleX(0.9995)">81.708</span>
<span class="t b" style="left:953.99px;top:1351px;font-size:28px;width:101.21px;transform:scaleX(0.9987)">101.551</span>
<span class="t b" style="left:1134.83px;top:1351px;font-size:28px;width:85.64px;transform:scaleX(0.9995)">75.945</span>
<span class="t b" style="left:1282.58px;top:1351px;font-size:28px;width:85.64px;transform:scaleX(0.9995)">27.967</span>
<span class="t b" style="left:1448.14px;top:1351px;font-size:28px;width:101.21px;transform:scaleX(0.9987)">205.463</span>
<span class="t i" style="left:1652.90px;top:1351px;font-size:28px;width:94.20px;transform:scaleX(0.9744)">+ 1.872</span>
<span class="t b" style="left:1841.12px;top:1351px;font-size:28px;width:124.56px;transform:scaleX(1.0013)">1.979.217</span>
<span class="t b" style="left:2028.62px;top:1351px;font-size:28px;width:124.56px;transform:scaleX(1.0013)">1.354.901</span>
<span class="t b" style="left:963.15px;top:209px;font-size:33px;width:647.42px;transform:scaleX(0.9717)">AGGIORNAMENTO 30/04/2020 ORE 17.00</span>
<span class="t b" style="left:214.09px;top:307px;font-size:28px;width:110.46px;transform:scaleX(0.9338)">Regione</span>
<span class="t b" style="left:621.96px;top:280px;font-size:28px;width:244.23px;transform:scaleX(0.9180)">POSITIVI AL nCoV</span>
<span class="t b" style="left:399.91px;top:356px;font-size:28px;width:135.39px;transform:scaleX(0.9617)">Ricoverati</span>
<span class="t b" style="left:389.12px;top:396px;font-size:28px;width:157.12px;transform:scaleX(0.9536)">con sintomi</span>
<span class="t b" style="left:588.67px;top:356px;font-size:28px;width:99.60px;transform:scaleX(0.9390)">Terapia</span>
<span class="t b" style="left:577.40px;top:396px;font-size:28px;width:121.38px;transform:scaleX(0.9498)">intensiva</span>
<span class="t b" style="left:743.82px;top:356px;font-size:28px;width:147.81px;transform:scaleX(0.9776)">Isolamento</span>
<span class="t b" style="left:743.09px;top:396px;font-size:28px;width:147.83px;transform:scaleX(0.9621)">domiciliare</span>
<span class="t b" style="left:963.14px;top:336px;font-size:28px;width:82.46px;transform:scaleX(0.9743)">Totale</span>
<span class="t b" style="left:925.40px;top:376px;font-size:28px;width:157.14px;transform:scaleX(1.0079)">attualmente</span>
<span class="t b" style="left:955.11px;top:415px;font-size:28px;width:98.01px;transform:scaleX(0.9694)">positivi</span>
<span class="t b" style="left:1114.92px;top:327px;font-size:28px;width:122.91px;transform:scaleX(0.9746)">DIMESSI/</span>
<span class="t b" style="left:1119.09px;top:368px;font-size:28px;width:115.10px;transform:scaleX(0.9350)">GUARITI</span>
<span class="t b" style="left:1254.99px;top:347px;font-size:28px;width:143.12px;transform:scaleX(0.9005)">DECEDUTI</span>
<span class="t b" style="left:1409.19px;top:347px;font-size:28px;width:175.77px;transform:scaleX(0.8782)">CASI TOTALI</span>
<span class="t b" style="left:1608.46px;top:294px;font-size:28px;width:188.22px;transform:scaleX(0.9386)">INCREMENTO</span>
<span class="t b" style="left:1610.80px;top:334px;font-size:28px;width:183.54px;transform:scaleX(0.8902)">CASI  TOTALI</span>
<span class="t i" style="left:1613.80px;top:374px;font-size:22.5px;width:173.84px;transform:scaleX(1.0484)">(rispetto al giorno</span>
<span class="t i" style="left:1641.16px;top:407px;font-size:22.5px;width:120.08px;transform:scaleX(1.0017)">precedente)</span>
<span class="t b" style="left:1837.72px;top:347px;font-size:28px;width:129.10px;transform:scaleX(0.9865)">TAMPONI</span>
<span class="t b" style="left:1994.35px;top:347px;font-size:28px;width:191.34px;transform:scaleX(0.8719)">CASI TESTATI</span>
<span class="t" style="left:878.05px;top:71px;font-size:28px;width:580.45px;transform:scaleX(1.0033)">PCM-DPC dati forniti dal Ministero della Salute</span>
<span class="t b" style="left:389.74px;top:1455px;font-size:28px;width:336.00px;transform:scaleX(0.9207)">ATTUALMENTE POSITIVI</span>
<span class="t b" style="left:767.39px;top:1455px;font-size:28px;width:101.21px;transform:scaleX(0.9987)">101.551</span>
<span class="t b" style="left:440.47px;top:1498px;font-size:28px;width:234.87px;transform:scaleX(0.9068)">TOTALE GUARITI</span>
<span class="t b" style="left:775.18px;top:1498px;font-size:28px;width:85.64px;transform:scaleX(0.9995)">75.945</span>
<span class="t b" style="left:426.20px;top:1540px;font-size:28px;width:262.88px;transform:scaleX(0.8857)">TOTALE DECEDUTI</span>
<span class="t b" style="left:775.18px;top:1540px;font-size:28px;width:85.64px;transform:scaleX(0.9995)">27.967</span>
<span class="t b" style="left:470.24px;top:1582px;font-size:28px;width:175.77px;transform:scaleX(0.8892)">CASI TOTALI</span>
<span class="t b" style="left:767.39px;top:1582px;font-size:28px;width:101.21px;transform:scaleX(0.9987)">205.463</span>
</div></body></html>
